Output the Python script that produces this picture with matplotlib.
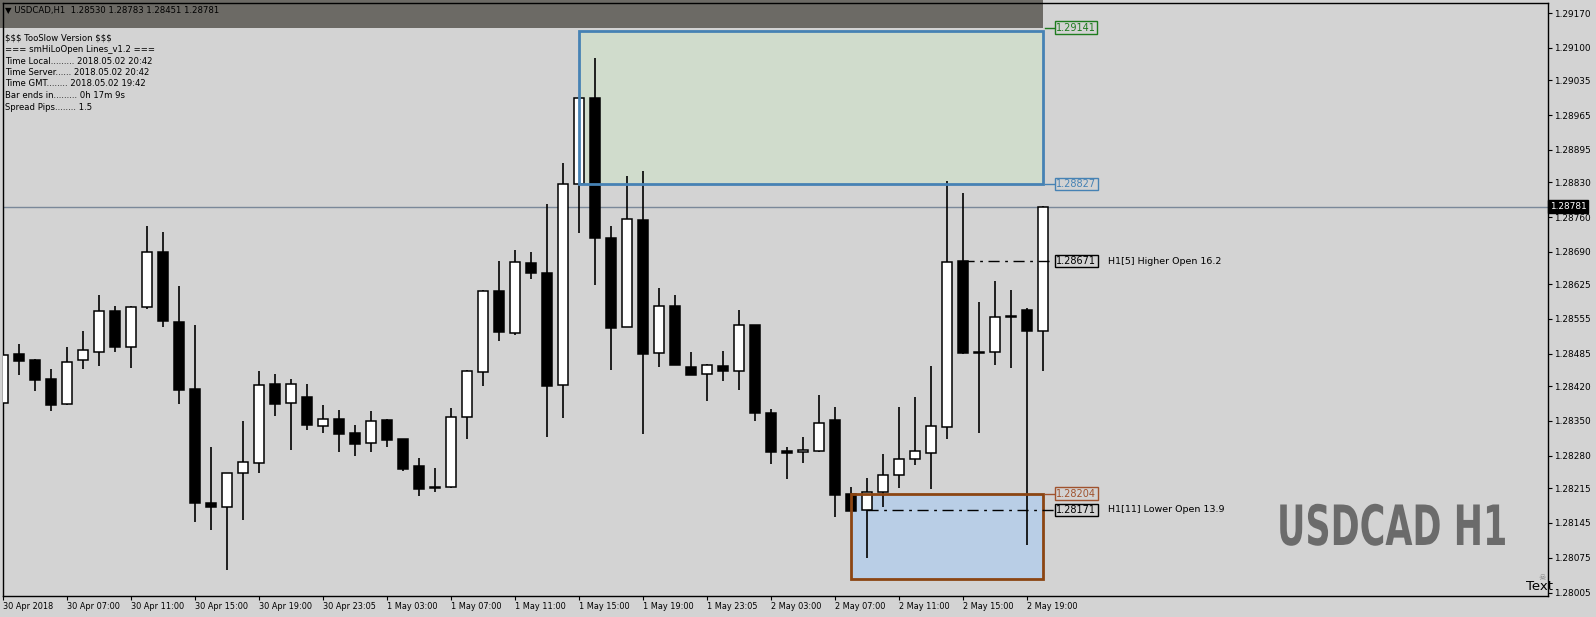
import matplotlib
matplotlib.use("Agg")
import matplotlib.pyplot as plt
from matplotlib.patches import Rectangle
from matplotlib.text import Text
import matplotlib.transforms as mtransforms
from matplotlib import patheffects

# ---------------- data ----------------
opens = [1.28386, 1.28484, 1.28473, 1.28434, 1.28384, 1.28472, 1.28489, 1.28571, 1.28498, 1.28580,
         1.28689, 1.28548, 1.28414, 1.28185, 1.28176, 1.28245, 1.28266, 1.28424, 1.28386, 1.28398,
         1.28339, 1.28353, 1.28325, 1.28305, 1.28351, 1.28314, 1.28260, 1.28217, 1.28218, 1.28357,
         1.28449, 1.28611, 1.28526, 1.28667, 1.28647, 1.28422, 1.28826, 1.28999, 1.28717, 1.28538,
         1.28754, 1.28486, 1.28581, 1.28458, 1.28444, 1.28460, 1.28451, 1.28542, 1.28366, 1.28290,
         1.28287, 1.28290, 1.28351, 1.28203, 1.28171, 1.28208, 1.28241, 1.28274, 1.28286, 1.28337,
         1.28671, 1.28488, 1.28488, 1.28561, 1.28573, 1.28530]
highs = [1.28503, 1.28505, 1.28474, 1.28455, 1.28499, 1.28531, 1.28603, 1.28581, 1.28581, 1.28742,
         1.28730, 1.28621, 1.28543, 1.28298, 1.28246, 1.28350, 1.28451, 1.28445, 1.28434, 1.28424,
         1.28382, 1.28372, 1.28342, 1.28370, 1.28354, 1.28314, 1.28276, 1.28256, 1.28376, 1.28453,
         1.28613, 1.28672, 1.28694, 1.28690, 1.28786, 1.28868, 1.28999, 1.29080, 1.28742, 1.28843,
         1.28853, 1.28617, 1.28603, 1.28489, 1.28465, 1.28491, 1.28573, 1.28542, 1.28374, 1.28298,
         1.28318, 1.28402, 1.28378, 1.28217, 1.28235, 1.28284, 1.28378, 1.28398, 1.28461, 1.28833,
         1.28808, 1.28589, 1.28632, 1.28613, 1.28577, 1.28783]
lows = [1.28372, 1.28443, 1.28410, 1.28370, 1.28383, 1.28455, 1.28461, 1.28489, 1.28457, 1.28576,
        1.28538, 1.28385, 1.28146, 1.28131, 1.28050, 1.28150, 1.28246, 1.28359, 1.28292, 1.28332,
        1.28326, 1.28288, 1.28280, 1.28288, 1.28298, 1.28250, 1.28199, 1.28208, 1.28216, 1.28314,
        1.28421, 1.28511, 1.28522, 1.28636, 1.28318, 1.28355, 1.28727, 1.28624, 1.28453, 1.28538,
        1.28324, 1.28459, 1.28463, 1.28443, 1.28391, 1.28431, 1.28412, 1.28349, 1.28264, 1.28234,
        1.28266, 1.28288, 1.28156, 1.28168, 1.28075, 1.28176, 1.28216, 1.28262, 1.28214, 1.28314,
        1.28485, 1.28326, 1.28463, 1.28457, 1.28101, 1.28451]
closes = [1.28482, 1.28471, 1.28432, 1.28383, 1.28468, 1.28492, 1.28571, 1.28499, 1.28579, 1.28689,
          1.28550, 1.28413, 1.28184, 1.28176, 1.28245, 1.28267, 1.28422, 1.28385, 1.28424, 1.28341,
          1.28353, 1.28324, 1.28304, 1.28349, 1.28312, 1.28254, 1.28213, 1.28216, 1.28358, 1.28451,
          1.28611, 1.28528, 1.28669, 1.28648, 1.28421, 1.28826, 1.28999, 1.28717, 1.28536, 1.28756,
          1.28485, 1.28581, 1.28463, 1.28443, 1.28462, 1.28451, 1.28542, 1.28365, 1.28288, 1.28285,
          1.28291, 1.28345, 1.28202, 1.28168, 1.28207, 1.28241, 1.28273, 1.28289, 1.28339, 1.28669,
          1.28487, 1.28486, 1.28559, 1.28559, 1.28530, 1.28781]

x_tick_labels = ["30 Apr 2018", "30 Apr 07:00", "30 Apr 11:00", "30 Apr 15:00", "30 Apr 19:00",
                 "30 Apr 23:05", "1 May 03:00", "1 May 07:00", "1 May 11:00", "1 May 15:00",
                 "1 May 19:00", "1 May 23:05", "2 May 03:00", "2 May 07:00", "2 May 11:00",
                 "2 May 15:00", "2 May 19:00"]
y_tick_values = [1.29170, 1.29100, 1.29035, 1.28965, 1.28895, 1.28830, 1.28760, 1.28690, 1.28625,
                 1.28555, 1.28485, 1.28420, 1.28350, 1.28280, 1.28215, 1.28145, 1.28075, 1.28005]

current_price = 1.28781
upper_zone = (1.28827, 1.29135)      # bottom, top of upper box
upper_zone_label = 1.29141
lower_zone = (1.28032, 1.28204)
higher_open = 1.28671
lower_open = 1.28171

header_text = "▼ USDCAD,H1  1.28530 1.28783 1.28451 1.28781"
info_lines = ["$$$ TooSlow Version $$$", "=== smHiLoOpen Lines_v1.2 ===",
              "Time Local......... 2018.05.02 20:42", "Time Server...... 2018.05.02 20:42",
              "Time GMT........ 2018.05.02 19:42", "Bar ends in......... 0h 17m 9s",
              "Spread Pips........ 1.5"]

# ---------------- figure ----------------
W, H = 1596, 617
BG = "#D3D3D3"
plt.rcParams["font.family"] = ["DejaVu Sans"]
fig = plt.figure(figsize=(W / 100, H / 100), dpi=100, facecolor=BG)

def fx(px):
    return px / W

def fy(py):
    return 1 - py / H

ax_left, ax_right, ax_top, ax_bot = 2.7, 1548, 2.7, 596
ax = fig.add_axes([fx(ax_left), fy(ax_bot), fx(ax_right - ax_left), (ax_bot - ax_top) / H])
ax.set_facecolor(BG)

n = len(opens)
xs = list(range(n))
ax.set_xlim(-0.04, (ax_right - 3.3) / 16.0)
ax.set_ylim(1.27998, 1.29191)

# zones (fill below candles)
ax.add_patch(Rectangle((36, upper_zone[0]), 29, upper_zone[1] - upper_zone[0],
                       facecolor="#D0DCCC", edgecolor="none", zorder=1))
ax.add_patch(Rectangle((53, lower_zone[0]), 12, lower_zone[1] - lower_zone[0],
                       facecolor="#B9CEE6", edgecolor="none", zorder=1))

# header bar
ax.add_patch(Rectangle((-0.5, 1.29141), 65.5, 0.0007, facecolor="#6C6A65",
                       edgecolor="none", zorder=1, clip_on=False))

# current price line
ax.axhline(current_price, color="#7A8899", lw=1, zorder=1.5)

# candles
body_w = 0.62
for i in range(n):
    o, h, l, c = opens[i], highs[i], lows[i], closes[i]
    ax.vlines(xs[i], l, h, color="black", lw=1.2, zorder=2)
    up = c > o
    ax.bar(xs[i], abs(c - o) if abs(c - o) > 0 else 0.000005, bottom=min(o, c), width=body_w,
           facecolor="white" if up else "black", edgecolor="black", linewidth=1.1, zorder=3)

# zone borders (on top of candles)
ax.add_patch(Rectangle((36, upper_zone[0]), 29, upper_zone[1] - upper_zone[0],
                       facecolor="none", edgecolor="#4682B4", lw=2, zorder=4))
ax.add_patch(Rectangle((53, lower_zone[0]), 12, lower_zone[1] - lower_zone[0],
                       facecolor="none", edgecolor="#8B4513", lw=2, zorder=4))

# dash-dot open lines
ax.plot([60, 65.7], [higher_open, higher_open], color="black", lw=1,
        linestyle=(0, (8, 4, 2, 4)), zorder=4)
ax.plot([54, 65.7], [lower_open, lower_open], color="black", lw=1,
        linestyle=(0, (8, 4, 2, 4)), zorder=4)

# connectors
ax.plot([65.1, 65.7], [upper_zone_label, upper_zone_label], color="#1E7B1E", lw=1, zorder=4)
ax.plot([65.1, 65.7], [upper_zone[0], upper_zone[0]], color="#4682B4", lw=1, zorder=4)
ax.plot([65.1, 65.7], [lower_zone[1], lower_zone[1]], color="#A0522D", lw=1, zorder=4)

lab_x = 65.82
def price_label(y, col, text_col):
    ax.text(lab_x, y, f"{y:.5f}", color=text_col, fontsize=7, ha="left", va="center", zorder=6,
            bbox=dict(boxstyle="square,pad=0.12", facecolor=BG, edgecolor=col, lw=1))

price_label(upper_zone_label, "#1E7B1E", "#1E7B1E")
price_label(upper_zone[0], "#4682B4", "#4682B4")
price_label(lower_zone[1], "#A0522D", "#A0522D")
price_label(higher_open, "black", "black")
price_label(lower_open, "black", "black")
ax.text(69.05, higher_open, "H1[5] Higher Open 16.2", fontsize=6.8, ha="left", va="center", zorder=6)
ax.text(69.05, lower_open, "H1[11] Lower Open 13.9", fontsize=6.8, ha="left", va="center", zorder=6)

# axes styling
for s in ax.spines.values():
    s.set_color("black")
    s.set_linewidth(1)
ax.yaxis.tick_right()
ax.set_yticks(y_tick_values)
ax.set_yticklabels([f"{v:.5f}" for v in y_tick_values], fontsize=6.4)
ax.tick_params(axis="y", direction="out", length=3, pad=1.5, colors="black")
ax.set_xticks(list(range(0, 4 * len(x_tick_labels), 4)))
ax.set_xticklabels(x_tick_labels, fontsize=5.9, ha="left")
ax.tick_params(axis="x", direction="out", length=3, pad=1.5, colors="black")

# current price box on axis
trans = mtransforms.blended_transform_factory(ax.transAxes, ax.transData)
ax.text(1.0012, current_price, f"{current_price:.5f}", transform=trans, fontsize=6.4,
        color="white", ha="left", va="center", zorder=7, clip_on=False,
        bbox=dict(boxstyle="square,pad=0.2", facecolor="black", edgecolor="black"))

# header text
fig.text(fx(5), fy(10), header_text, fontsize=6.1,
         color="black", ha="left", va="center", parse_math=False)

# info block
for k, line in enumerate(info_lines):
    fig.text(fx(5), fy(38 + 11.5 * k), line, fontsize=6.1, color="black", ha="left", va="center",
             parse_math=False)


# watermark: bold text squeezed horizontally (condensed look) via a path effect
SQUEEZE = 0.63


class Squeeze(patheffects.AbstractPathEffect):
    def __init__(self, sx):
        super().__init__()
        self.sx = sx

    def draw_path(self, renderer, gc, tpath, affine, rgbFace=None):
        new_affine = mtransforms.Affine2D().scale(self.sx, 1.0) + affine
        renderer.draw_path(gc, tpath, new_affine, rgbFace)


class SqueezedText(Text):
    def get_window_extent(self, renderer=None, dpi=None):
        bb = super().get_window_extent(renderer, dpi)
        return mtransforms.Bbox([[bb.x0, bb.y0], [bb.x0 + bb.width * SQUEEZE, bb.y1]])


fig.add_artist(SqueezedText(fx(1277), fy(545), "USDCAD H1", transform=fig.transFigure,
                            fontsize=40, fontweight="bold", family="DejaVu Sans",
                            color="#6B6B6B", ha="left", va="baseline",
                            path_effects=[Squeeze(SQUEEZE)]))

# Text object with skull
fig.text(fx(1540), fy(587), "Text", fontsize=9.5, color="black", ha="center", va="center")
fig.text(fx(1542), fy(577), "☠", fontsize=6, color="#808080", ha="center", va="center")

fig.savefig("out.png", dpi=100, facecolor=BG)
